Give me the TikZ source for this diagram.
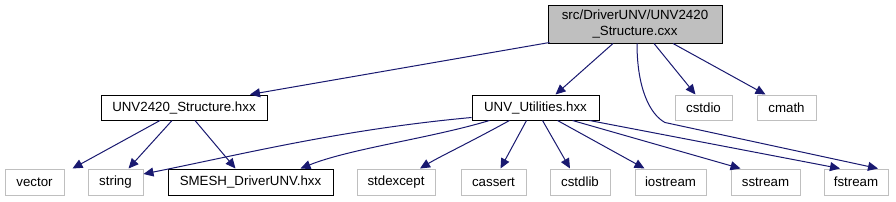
\documentclass[tikz,border=0pt]{standalone}
\usepackage{fontspec}
\setmainfont{Liberation Sans}
\usetikzlibrary{arrows.meta,calc}
\definecolor{edgeblue}{HTML}{191970}
\definecolor{boxgray}{HTML}{BFBFBF}
\begin{document}
\begin{tikzpicture}[x=1pt,y=-1pt,
  box/.style={draw=black,fill=white,line width=1pt,minimum height=25pt,inner sep=0pt,font=\fontsize{13.3}{15}\selectfont},
  ext/.style={box,draw=boxgray,minimum height=26pt},
  dep/.style={draw=edgeblue,line width=1pt,-{Triangle[length=10pt,width=9pt]},color=edgeblue}]
\useasboundingbox (0,0) rectangle (896,201);
\node[box,fill=boxgray,minimum width=174pt,minimum height=38pt,align=center,font=\fontsize{13.3}{15.5}\selectfont] (top) at (635,24) {src/DriverUNV/UNV2420\\\_Structure.cxx};
\node[box,minimum width=166pt] (s2420) at (184,107.5) {UNV2420\_Structure.hxx};
\node[box,minimum width=127pt] (unvu) at (535.5,107.5) {UNV\_Utilities.hxx};
\node[ext,minimum width=57pt,minimum height=25pt] (cstdio) at (703.5,107.5) {cstdio};
\node[ext,minimum width=59pt,minimum height=25pt] (cmath) at (786.5,107.5) {cmath};
\node[ext,minimum width=59pt] (vector) at (34.5,182) {vector};
\node[ext,minimum width=55pt] (string) at (115.5,182) {string};
\node[box,minimum width=165pt,minimum height=26pt] (smesh) at (250.5,182) {SMESH\_DriverUNV.hxx};
\node[ext,minimum width=78pt] (stdexcept) at (396,182) {stdexcept};
\node[ext,minimum width=65pt] (cassert) at (493.5,182) {cassert};
\node[ext,minimum width=60pt] (cstdlib) at (580,182) {cstdlib};
\node[ext,minimum width=71pt] (iostream) at (670.5,182) {iostream};
\node[ext,minimum width=69pt] (sstream) at (765.5,182) {sstream};
\node[ext,minimum width=64pt] (fstream) at (856,182) {fstream};
% edges from top
\draw[dep] ([xshift=2pt,yshift=1pt]top.south west) -- ([xshift=66pt]s2420.north);
\draw[dep] ([xshift=-22pt]top.south) -- ([xshift=20pt]unvu.north);
\draw[dep] ([xshift=19pt]top.south) -- ([xshift=-8pt]cstdio.north);
\draw[dep] ([xshift=38pt]top.south) -- ([xshift=-21pt]cmath.north);
\draw[dep] ([xshift=2pt]top.south) .. controls +(0,45) and +(-15,-8) .. ($(top.south)+(30,79)$) -- ([xshift=22pt]fstream.north);
% edges from UNV2420_Structure
\draw[dep] ([xshift=-24pt]s2420.south) -- ([xshift=38pt]vector.north);
\draw[dep] ([xshift=-12pt]s2420.south) -- ([xshift=13pt]string.north);
\draw[dep] ([xshift=11pt]s2420.south) -- ([xshift=-15pt]smesh.north);
% edges from UNV_Utilities
\draw[dep] ([yshift=3pt]unvu.south west) .. controls +(-130,12) and +(100,-20) .. ([yshift=8pt]string.east);
\draw[dep] ([xshift=18pt]unvu.south west) .. controls +(-60,18) and +(50,-20) .. ([xshift=50pt]smesh.north);
\draw[dep] ([xshift=38pt]unvu.south west) .. controls +(-40,22) and +(20,-12) .. ([xshift=24pt]stdexcept.north);
\draw[dep] ([xshift=-9pt]unvu.south) -- ([xshift=7pt]cassert.north);
\draw[dep] ([xshift=7pt]unvu.south) -- ([xshift=-10pt]cstdlib.north);
\draw[dep] ([xshift=22pt]unvu.south) -- ([xshift=-26pt]iostream.north);
\draw[dep] ([xshift=37pt]unvu.south) -- ([xshift=-25pt]sstream.north);
\draw[dep] ([xshift=54pt]unvu.south) -- ([xshift=-16pt]fstream.north);
\end{tikzpicture}
\end{document}
